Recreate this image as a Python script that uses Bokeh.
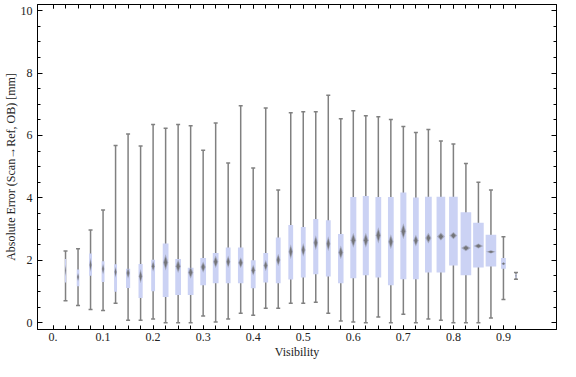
from bokeh.plotting import figure
from bokeh.models import FixedTicker, ColumnDataSource, LinearAxis, CustomLabelingPolicy
from bokeh.embed import file_html
from bokeh.resources import INLINE

# ---- data ----
visibility = [0.025, 0.05, 0.075, 0.1, 0.125, 0.15, 0.175, 0.2, 0.225, 0.25,
              0.275, 0.3, 0.325, 0.35, 0.375, 0.4, 0.425, 0.45, 0.475, 0.5,
              0.525, 0.55, 0.575, 0.6, 0.625, 0.65, 0.675, 0.7, 0.725, 0.75,
              0.775, 0.8, 0.825, 0.85, 0.875, 0.9, 0.925]
whisker_low = [0.70, 0.55, 0.42, 0.39, 0.62, 0.08, 0.08, 0.12, 0.00, 0.00,
               0.00, 0.21, 0.02, 0.12, 0.30, 0.24, 0.46, 0.46, 0.62, 0.62,
               0.65, 0.30, 0.05, 0.02, 0.00, 0.18, 0.00, 0.27, 0.00, 0.12,
               0.08, 0.00, 0.00, 0.00, 0.15, 0.74, 1.39]
q1 = [1.29, 1.17, 1.50, 1.30, 0.99, 1.11, 0.79, 1.01, 0.82, 0.89,
      0.89, 1.20, 1.26, 1.26, 1.26, 1.10, 1.29, 1.26, 1.38, 1.45,
      1.55, 1.48, 1.26, 1.42, 1.52, 1.45, 1.20, 1.39, 1.39, 1.61,
      1.61, 1.83, 1.52, 1.77, 1.80, 1.73, 1.43]
median = [1.67, 1.46, 1.85, 1.72, 1.62, 1.59, 1.49, 1.81, 1.93, 1.81,
          1.61, 1.78, 1.95, 1.95, 1.92, 1.68, 1.83, 2.01, 2.27, 2.33,
          2.56, 2.53, 2.25, 2.64, 2.64, 2.80, 2.59, 2.93, 2.63, 2.71,
          2.76, 2.79, 2.39, 2.46, 2.27, 1.89, 1.50]
q3 = [2.04, 1.70, 2.22, 1.97, 1.87, 1.73, 1.88, 2.02, 2.54, 2.04,
      1.76, 2.07, 2.23, 2.41, 2.41, 2.00, 2.23, 2.73, 3.13, 3.07,
      3.32, 3.28, 2.84, 4.03, 4.06, 4.03, 4.03, 4.17, 4.01, 4.04,
      4.04, 4.04, 3.54, 3.20, 2.82, 2.07, 1.56]
whisker_high = [2.30, 2.37, 2.97, 3.61, 5.68, 6.05, 5.66, 6.35, 6.23, 6.35,
                6.31, 5.53, 6.40, 5.12, 6.95, 4.96, 6.88, 4.25, 6.73, 6.76,
                6.76, 7.29, 6.54, 6.79, 6.63, 6.60, 6.51, 6.29, 6.10, 6.19,
                5.82, 5.73, 5.10, 4.50, 4.25, 2.75, 1.61]
# relative box widths (in thousandths of the x unit, grows with sample size)
box_weight = [2.5, 5.2, 5.8, 5.8, 5.8, 8.3, 8.3, 7.7, 11.5, 11.5,
              11.5, 11.5, 11.5, 9.6, 11.0, 9.6, 9.6, 9.6, 9.6, 9.6,
              10.2, 9.6, 11.0, 12.1, 12.1, 11.5, 11.5, 12.1, 11.5, 13.5,
              17.3, 17.3, 21.2, 21.2, 21.2, 9.6, 2.5]
# half-height of the median confidence marker
median_notch = [0.20, 0.14, 0.23, 0.18, 0.18, 0.18, 0.23, 0.18, 0.26, 0.22,
                0.20, 0.18, 0.20, 0.20, 0.18, 0.18, 0.18, 0.20, 0.24, 0.22,
                0.24, 0.24, 0.22, 0.24, 0.24, 0.26, 0.24, 0.26, 0.19, 0.17,
                0.13, 0.12, 0.10, 0.08, 0.05, 0.05, 0.03]

x_tick_values = [0.0, 0.1, 0.2, 0.3, 0.4, 0.5, 0.6, 0.7, 0.8, 0.9]
x_tick_labels = ["0.", "0.1", "0.2", "0.3", "0.4", "0.5", "0.6", "0.7", "0.8", "0.9"]
x_minor_ticks = [0.0] + visibility
y_tick_values = [0, 2, 4, 6, 8, 10]
y_minor_ticks = [0, 0.5, 1, 1.5, 2, 2.5, 3, 3.5, 4, 4.5, 5, 5.5, 6, 6.5, 7, 7.5,
                 8, 8.5, 9, 9.5, 10]

FONT = "Liberation Serif"
BOX_COLOR = "#cbd2f4"
WHISK = "#808080"
X0, X1 = -0.031, 1.006
Y0, Y1 = -0.22, 10.2

widths = [w / 1000.0 for w in box_weight]

src = ColumnDataSource(dict(x=visibility, lo=whisker_low, q1=q1, med=median,
                            q3=q3, hi=whisker_high, w=widths))

p = figure(width=560, height=361, x_range=(X0, X1), y_range=(Y0, Y1),
           output_backend="svg", toolbar_location=None,
           min_border_left=0, min_border_right=0, min_border_top=0, min_border_bottom=0,
           x_axis_label="Visibility",
           y_axis_label="Absolute Error (Scan\u2192Ref, OB) [mm]")
p.grid.visible = False
p.outline_line_color = "black"
p.outline_line_width = 1
p.background_fill_color = "white"
p.border_fill_color = "white"

# whiskers and caps
p.segment(x0="x", y0="lo", x1="x", y1="hi", source=src, line_color=WHISK, line_width=1.5)
p.scatter(x="x", y="lo", source=src, marker="dash", size=4, line_color=WHISK, line_width=1.5)
p.scatter(x="x", y="hi", source=src, marker="dash", size=4, line_color=WHISK, line_width=1.5)

# boxes
p.vbar(x="x", width="w", bottom="q1", top="q3", source=src,
       fill_color=BOX_COLOR, line_color=None)

# median markers (diamonds, blurred look with two layers)
def diamonds(scale_w, scale_h):
    xs, ys = [], []
    for x, m, w, h in zip(visibility, median, widths, median_notch):
        hw = 0.45 * w * scale_w
        hh = h * scale_h
        xs.append([x - hw, x, x + hw, x])
        ys.append([m, m + hh, m, m - hh])
    return xs, ys

xs, ys = diamonds(1.0, 1.0)
p.patches(xs, ys, fill_color="#6e6e6e", fill_alpha=0.4, line_color=None)
xs, ys = diamonds(0.6, 0.7)
p.patches(xs, ys, fill_color="#666666", fill_alpha=0.8, line_color=None)

# top and right frame axes: tick marks only, every label suppressed by the policy
hide_all = CustomLabelingPolicy(code="""
    const ids = [...indices]
    for (const i of ids) indices.unset(i)
    return indices
""")
top = LinearAxis(ticker=FixedTicker(ticks=x_tick_values, minor_ticks=x_minor_ticks),
                 major_label_policy=hide_all)
right = LinearAxis(ticker=FixedTicker(ticks=y_tick_values, minor_ticks=y_minor_ticks),
                   major_label_policy=hide_all)
top.major_tick_in = 4
top.minor_tick_in = 4
right.major_tick_in = 5
right.minor_tick_in = 3
for ax in (top, right):
    ax.major_tick_out = 0
    ax.minor_tick_out = 0
    ax.axis_line_color = "black"
    ax.major_tick_line_color = "black"
    ax.minor_tick_line_color = "black"
    ax.major_label_standoff = 0
    ax.major_label_text_font_size = "1px"
p.add_layout(top, "above")
p.add_layout(right, "right")

# main axes
xax = p.below[0]
yax = p.left[0]
xax.ticker = FixedTicker(ticks=x_tick_values, minor_ticks=x_minor_ticks)
yax.ticker = FixedTicker(ticks=y_tick_values, minor_ticks=y_minor_ticks)
xax.major_label_overrides = dict(zip(x_tick_values, x_tick_labels))

xax.major_tick_in = 4
xax.major_tick_out = 0
xax.minor_tick_in = 4
xax.minor_tick_out = 0
yax.major_tick_in = 5
yax.major_tick_out = 0
yax.minor_tick_in = 3
yax.minor_tick_out = 0

for ax in (xax, yax):
    ax.axis_line_color = "black"
    ax.major_tick_line_color = "black"
    ax.minor_tick_line_color = "black"
    ax.major_label_text_font = FONT
    ax.major_label_text_font_size = "12px"
    ax.major_label_text_color = "#222222"
    ax.axis_label_text_font = FONT
    ax.axis_label_text_font_size = "12px"
    ax.axis_label_text_font_style = "normal"
    ax.axis_label_text_color = "#222222"

xax.major_label_standoff = 3
xax.axis_label_standoff = 1
yax.major_label_standoff = 5
yax.axis_label_standoff = 0

open("out.html", "w").write(file_html(p, INLINE))
